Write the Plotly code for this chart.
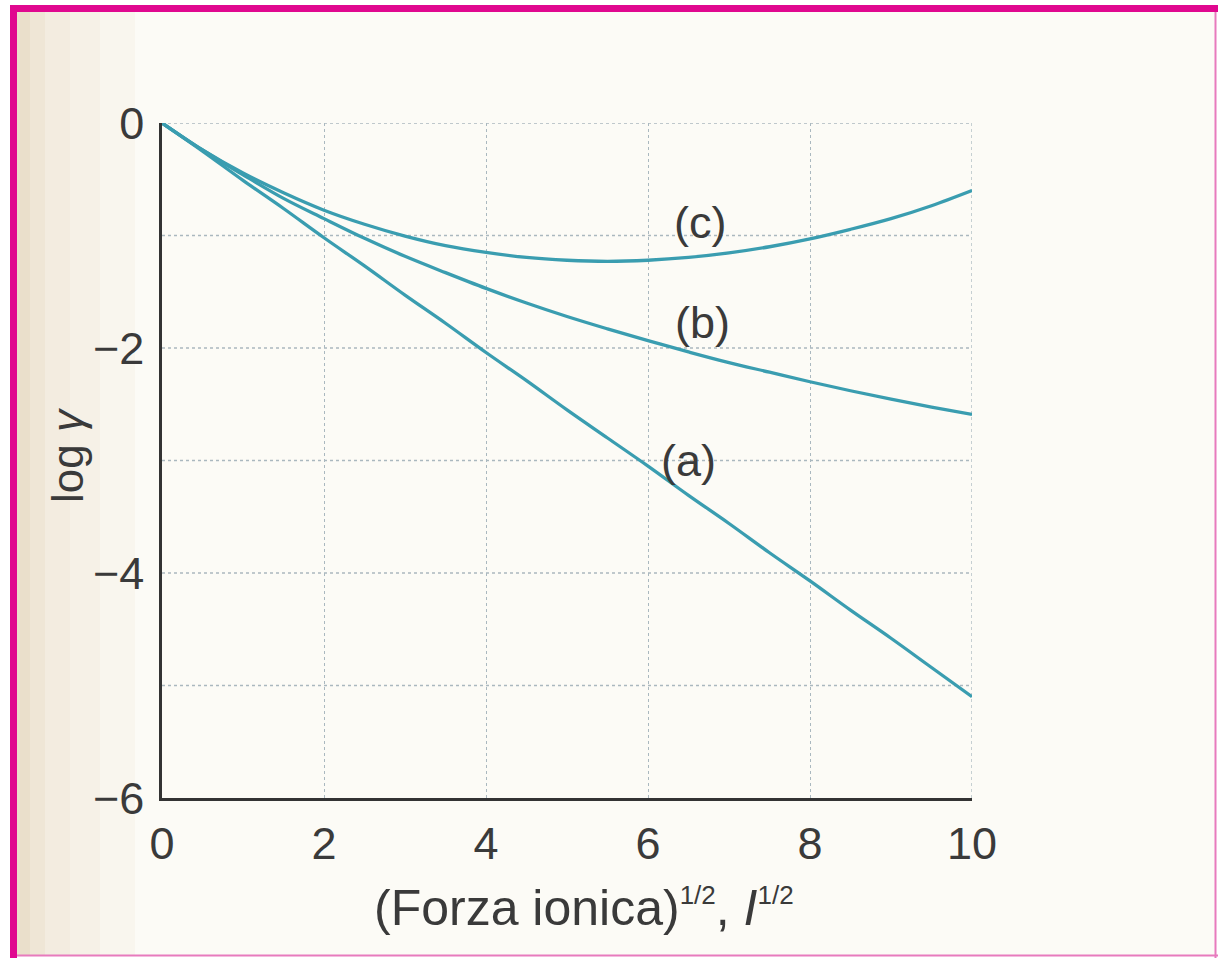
import plotly.graph_objects as go

# Data
x_vals = [0, 0.5, 1, 1.5, 2, 2.5, 3, 3.5, 4, 4.5, 5, 5.5, 6, 6.5, 7, 7.5, 8, 8.5, 9, 9.5, 10]
curve_a = [0, -0.25, -0.51, -0.76, -1.02, -1.27, -1.53, -1.78, -2.04, -2.29, -2.55,
           -2.80, -3.05, -3.31, -3.56, -3.82, -4.07, -4.33, -4.58, -4.84, -5.10]
curve_b = [0, -0.24, -0.46, -0.67, -0.85, -1.025, -1.185, -1.33, -1.47, -1.60, -1.72,
           -1.83, -1.935, -2.035, -2.13, -2.215, -2.30, -2.38, -2.455, -2.525, -2.59]
curve_c = [0, -0.24, -0.445, -0.62, -0.775, -0.90, -1.005, -1.09, -1.15, -1.195, -1.22,
           -1.23, -1.22, -1.195, -1.155, -1.10, -1.03, -0.945, -0.85, -0.735, -0.60]
curve_labels = ["(a)", "(b)", "(c)"]
x_ticks = [0, 2, 4, 6, 8, 10]
y_ticks = [0, -2, -4, -6]
y_tick_text = ["0", "\u22122", "\u22124", "\u22126"]

LINE = "#3a9db0"
TXT = "#3a3a3a"
GRID = "#aab8bf"
FONT = "Liberation Sans, Arial, sans-serif"

fig = go.Figure()
for ys in (curve_a, curve_b, curve_c):
    fig.add_trace(go.Scatter(x=x_vals, y=ys, mode="lines",
                             line=dict(color=LINE, width=3.3, shape="spline", smoothing=1),
                             showlegend=False, hoverinfo="skip"))

W, H = 1218, 958
L, R, T, B = 162, 972, 123, 798

def px(xp):
    return (xp - L) / (R - L)

def py(yp):
    return (B - yp) / (B - T)

shapes = []
# white strip outside the frame
shapes.append(dict(type="rect", xref="paper", yref="paper", x0=px(0), x1=px(1218), y0=py(958), y1=py(0),
                   fillcolor="#ffffff", line=dict(width=0), layer="below"))
# scanned page background inside the frame
shapes.append(dict(type="rect", xref="paper", yref="paper", x0=px(17), x1=px(1215), y0=py(955), y1=py(12),
                   fillcolor="#fcfbf6", line=dict(width=0), layer="below"))
# left gradient of the scanned page
for x0, x1, col in [(17, 30, "#eadfcb"), (30, 45, "#efe6d6"), (45, 70, "#f3ece0"),
                    (70, 100, "#f6f1e7"), (100, 135, "#f9f6ee")]:
    shapes.append(dict(type="rect", xref="paper", yref="paper", x0=px(x0), x1=px(x1),
                       y0=py(955), y1=py(12), fillcolor=col, line=dict(width=0), layer="below"))
# magenta frame
shapes.append(dict(type="rect", xref="paper", yref="paper", x0=px(10), x1=px(1218), y0=py(5), y1=py(12),
                   fillcolor="#e0088f", line=dict(width=0)))
shapes.append(dict(type="rect", xref="paper", yref="paper", x0=px(10), x1=px(17), y0=py(958), y1=py(5),
                   fillcolor="#e0088f", line=dict(width=0)))
shapes.append(dict(type="line", xref="paper", yref="paper", x0=px(1215.5), x1=px(1215.5), y0=py(958), y1=py(12),
                   line=dict(color="#e77bbd", width=2)))
shapes.append(dict(type="line", xref="paper", yref="paper", x0=px(17), x1=px(1218), y0=py(955.5), y1=py(955.5),
                   line=dict(color="#e77bbd", width=2)))

LBL = dict(size=45, color=TXT, family=FONT)
annotations = [
    dict(x=6.64, y=-0.88, text=curve_labels[2], showarrow=False, xref="x", yref="y",
         xanchor="center", yanchor="middle", font=LBL),
    dict(x=6.67, y=-1.77, text=curve_labels[1], showarrow=False, xref="x", yref="y",
         xanchor="center", yanchor="middle", font=LBL),
    dict(x=6.5, y=-3.0, text=curve_labels[0], showarrow=False, xref="x", yref="y",
         xanchor="center", yanchor="middle", font=LBL),
    dict(x=px(584), y=py(908), xref="paper", yref="paper", showarrow=False,
         xanchor="center", yanchor="middle",
         text=("(Forza ionica)<sup><span style='font-size:26px'>1/2</span></sup>, "
               "<i>I</i><sup><span style='font-size:26px'>1/2</span></sup>"),
         font=dict(size=50, color=TXT, family=FONT)),
    dict(x=px(67), y=py(455), xref="paper", yref="paper", showarrow=False, textangle=-90,
         xanchor="center", yanchor="middle",
         text="log <i>\u03b3</i>", font=dict(size=44, color=TXT, family=FONT)),
]

fig.update_layout(
    width=W, height=H,
    margin=dict(l=L, r=W - R, t=T, b=H - B),
    paper_bgcolor="#ffffff",
    plot_bgcolor="#fefefd",
    shapes=shapes,
    annotations=annotations,
    xaxis=dict(range=[0, 10], tickvals=x_ticks, ticktext=[str(v) for v in x_ticks],
               showgrid=True, gridcolor=GRID, griddash="dot", gridwidth=1.3,
               zeroline=False, showline=True, linecolor="#333333", linewidth=2.5,
               ticks="", ticklabelstandoff=4,
               tickfont=dict(size=45, color=TXT, family=FONT)),
    yaxis=dict(range=[-6, 0], tickvals=y_ticks, ticktext=y_tick_text,
               showgrid=False, zeroline=False, showline=True, linecolor="#333333", linewidth=2.5,
               ticks="", ticklabelstandoff=6,
               tickfont=dict(size=45, color=TXT, family=FONT)),
)

# horizontal dotted grid at each integer log value, and the right edge line
for yv in [0, -1, -2, -3, -4, -5]:
    fig.add_shape(type="line", xref="x", yref="y", x0=0, x1=10, y0=yv, y1=yv,
                  line=dict(color=GRID, width=1.3, dash="dot"), layer="below")
fig.add_shape(type="line", xref="x", yref="y", x0=10, x1=10, y0=-6, y1=0,
              line=dict(color=GRID, width=1.3, dash="dot"), layer="below")

fig.write_html("out.html", config={"displayModeBar": False},
               post_script="document.body.style.margin='0';")
